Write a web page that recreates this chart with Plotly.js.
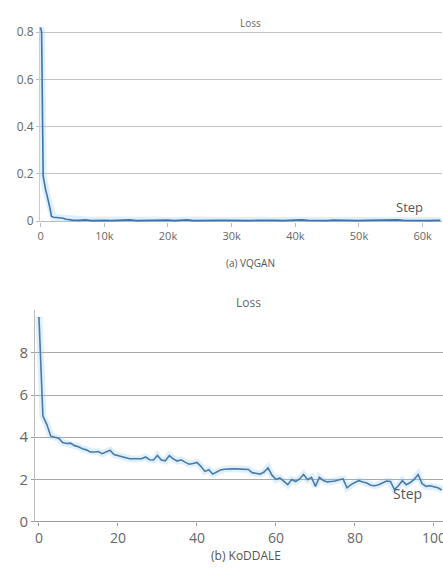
<!DOCTYPE html>
<html>
<head>
<meta charset="utf-8">
<script src="https://cdn.plot.ly/plotly-3.0.1.min.js"></script>
<style>
html,body{margin:0;padding:0;background:#fff;}
#chart{width:443px;height:576px;}
</style>
</head>
<body>
<div id="chart"></div>
<script>
// (a) VQGAN loss vs step
const vqganHeadSteps = [0, 150, 400, 600, 800, 1000, 1200, 1500, 1700, 2000, 2500, 3000, 3500, 4000, 4500];
const vqganHeadLoss  = [0.82, 0.80, 0.19, 0.15, 0.13, 0.11, 0.09, 0.05, 0.02, 0.016, 0.015, 0.014, 0.012, 0.008, 0.005];
const vqganTailLoss = [
  0.004,0.003,0.005,0.002,0.004,0.003,0.002,0.004,0.003,0.005,
  0.002,0.003,0.004,0.002,0.003,0.004,0.002,0.003,0.005,0.002,
  0.003,0.004,0.002,0.003,0.003,0.002,0.004,0.003,0.002,0.003,
  0.004,0.002,0.003,0.002,0.004,0.003,0.005,0.003,0.002,0.003,
  0.002,0.004,0.003,0.002,0.003,0.002,0.003,0.004,0.002,0.003,
  0.004,0.005,0.003,0.002,0.004,0.003,0.002,0.003,0.003
];
const vqganTailStart = 5000, vqganTailEvery = 1000;
const vqganTickVals = [0, 10000, 20000, 30000, 40000, 50000, 60000];
const vqganTickText = ["0", "10k", "20k", "30k", "40k", "50k", "60k"];

// (b) KoDDALE loss vs step
const koddaleLoss = [
  9.7,5.0,4.6,4.05,4.0,3.95,3.75,3.7,3.72,3.6,
  3.55,3.45,3.4,3.3,3.3,3.32,3.22,3.3,3.38,3.18,
  3.12,3.08,3.03,2.98,2.97,2.96,2.98,3.06,2.93,2.92,
  3.13,2.92,2.88,3.13,2.97,2.87,2.93,2.82,2.72,2.75,
  2.8,2.62,2.38,2.46,2.25,2.35,2.45,2.48,2.5,2.5,
  2.5,2.5,2.5,2.47,2.32,2.3,2.25,2.35,2.55,2.2,
  2.0,2.07,1.92,1.75,1.99,1.9,2.02,2.23,1.99,2.1,
  1.67,2.1,1.95,1.88,1.9,1.92,1.98,2.02,1.6,1.75,
  1.85,1.94,1.88,1.83,1.72,1.7,1.75,1.85,1.92,1.9,
  1.52,1.7,1.94,1.75,1.85,2.0,2.23,1.8,1.67,1.7,
  1.65,1.6,1.5
];

const titleA = "Loss", captionA = "(a) VQGAN";
const titleB = "Loss", captionB = "(b) KoDDALE";
const xLabel = "Step";

const vqganSteps = vqganHeadSteps.slice();
const vqganLoss = vqganHeadLoss.slice();
vqganTailLoss.forEach((v, i) => {
  vqganSteps.push(vqganTailStart + i * vqganTailEvery);
  vqganLoss.push(v);
});
vqganSteps[vqganSteps.length - 1] = 62800;

const koddaleSteps = koddaleLoss.map((_, i) => i);

const lineColor = "#3d74ad";
const haloColor = "rgba(140,200,240,0.28)";
const font = "Open Sans, Noto Sans, DejaVu Sans, sans-serif";

const traces = [
  {x: vqganSteps, y: vqganLoss, xaxis: "x", yaxis: "y", mode: "lines",
   line: {color: haloColor, width: 7}, hoverinfo: "skip", showlegend: false},
  {x: vqganSteps, y: vqganLoss, xaxis: "x", yaxis: "y", mode: "lines",
   line: {color: lineColor, width: 1.6}, showlegend: false},
  {x: koddaleSteps, y: koddaleLoss, xaxis: "x2", yaxis: "y2", mode: "lines",
   line: {color: haloColor, width: 7}, hoverinfo: "skip", showlegend: false},
  {x: koddaleSteps, y: koddaleLoss, xaxis: "x2", yaxis: "y2", mode: "lines",
   line: {color: "#4a7aa8", width: 1.6}, showlegend: false}
];

const W = 443, H = 576;
const px = v => v / W;
const py = v => (H - v) / H;

const layout = {
  width: W, height: H,
  margin: {l: 0, r: 0, t: 0, b: 0},
  paper_bgcolor: "#fff", plot_bgcolor: "#fff",
  font: {family: font, color: "#555"},
  showlegend: false,
  xaxis: {
    domain: [px(40), px(442)], anchor: "y",
    range: [-100, 63040],
    tickmode: "array",
    tickvals: vqganTickVals,
    ticktext: vqganTickText,
    ticklabeloverflow: "allow",
    showgrid: false, zeroline: false,
    showline: false,
    ticks: "outside", ticklen: 4, tickcolor: "#bbb",
    tickfont: {size: 11, color: "#666", family: font}
  },
  yaxis: {
    domain: [py(222), py(27)], anchor: "x",
    range: [-0.004, 0.822],
    tickvals: [0, 0.2, 0.4, 0.6, 0.8],
    showgrid: true, gridcolor: "#c4c4c4", gridwidth: 1,
    zeroline: true, zerolinecolor: "#bbb", zerolinewidth: 1,
    showline: true, linecolor: "#ccc", linewidth: 1,
    ticks: "outside", ticklen: 3, tickcolor: "#bbb",
    tickfont: {size: 12, color: "#666", family: font}
  },
  xaxis2: {
    domain: [px(35), px(443)], anchor: "y2",
    range: [-1, 102.3],
    tickvals: [0, 20, 40, 60, 80, 100],
    ticklabeloverflow: "allow",
    showgrid: false, zeroline: false, showline: false,
    ticks: "outside", ticklen: 3, tickcolor: "#999",
    tickfont: {size: 14, color: "#666", family: font}
  },
  yaxis2: {
    domain: [py(522), py(310)], anchor: "x2",
    range: [-0.02, 10.03],
    tickvals: [0, 2, 4, 6, 8],
    showgrid: true, gridcolor: "#a8a8a8", gridwidth: 1,
    zeroline: true, zerolinecolor: "#999", zerolinewidth: 1,
    showline: true, linecolor: "#bbb", linewidth: 1,
    ticks: "outside", ticklen: 3, tickcolor: "#999",
    tickfont: {size: 15, color: "#666", family: font}
  },
  annotations: [
    {text: titleA, xref: "paper", yref: "paper", x: px(250), y: py(14), showarrow: false,
     font: {size: 10, color: "#666", family: font}},
    {text: xLabel, xref: "paper", yref: "paper", x: px(425), y: py(207), showarrow: false,
     font: {size: 13, color: "#555", family: font}},
    {text: captionA, xref: "paper", yref: "paper", x: px(250), y: py(263), showarrow: false,
     font: {size: 10, color: "#555", family: font}},
    {text: titleB, xref: "paper", yref: "paper", x: px(248), y: py(302), showarrow: false,
     font: {size: 12, color: "#666", family: font}},
    {text: xLabel, xref: "paper", yref: "paper", x: px(424), y: py(505), showarrow: false,
     font: {size: 14, color: "#555", family: font}},
    {text: captionB, xref: "paper", yref: "paper", x: px(246), y: py(566), showarrow: false,
     font: {size: 12, color: "#555", family: font}}
  ]
};

Plotly.newPlot("chart", traces, layout, {displayModeBar: false, staticPlot: true});
</script>
</body>
</html>
